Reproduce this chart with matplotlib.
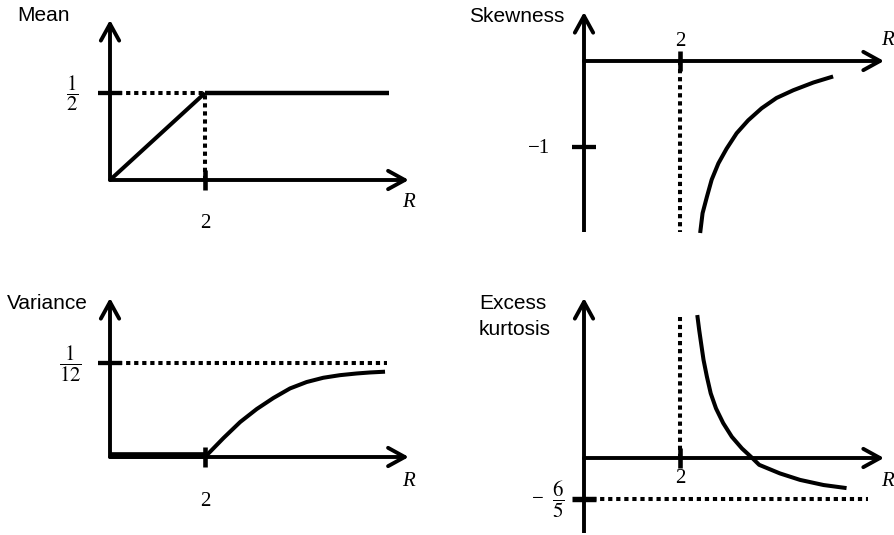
import numpy as np
import matplotlib.pyplot as plt

plt.rcParams['mathtext.fontset'] = 'stix'

W, H = 894, 535

# values
mean_r = [0, 2, 5.87]
mean_v = [0, 0.5, 0.5]

skew_r = [2.42, 2.47, 2.56, 2.66, 2.80, 2.97, 3.18, 3.42, 3.70, 4.01, 4.36, 4.78, 5.19]
skew_v = [-2.00, -1.77, -1.58, -1.38, -1.19, -1.02, -0.84, -0.69, -0.55, -0.43, -0.34, -0.25, -0.18]

var_r = [2.0, 2.39, 2.74, 3.09, 3.44, 3.79, 4.14, 4.49, 4.84, 5.19, 5.47, 5.79]
var_v = [0, 0.0169, 0.0311, 0.0427, 0.0525, 0.0610, 0.0667, 0.0705, 0.0728, 0.0743, 0.0752, 0.0759]

kurt_r = [2.36, 2.40, 2.44, 2.49, 2.56, 2.64, 2.75, 2.90, 3.08, 3.29, 3.49, 3.65, 4.08, 4.50, 4.99, 5.47]
kurt_v = [4.18, 3.74, 3.35, 2.87, 2.38, 1.89, 1.45, 1.02, 0.62, 0.28, 0.02, -0.20, -0.45, -0.64, -0.79, -0.88]

AX_LW = 2.8
CURVE_LW = 2.9
DOT = dict(color='k', lw=2.9, linestyle=(0, (1.05, 0.95)), dash_capstyle='butt', clip_on=False)
SANS = 'Liberation Sans'
SERIF = 'Liberation Serif'
FS_SANS = 15
FS_SERIF = 15

fig = plt.figure(figsize=(W / 100, H / 100), dpi=100)


def panel(box, ox, oy, sx, sy):
    # box in pixels (left, top, right, bottom); origin (ox, oy) in pixels, sx/sy pixels per unit
    l, t, r, b = box
    ax = fig.add_axes([l / W, 1 - b / H, (r - l) / W, (b - t) / H])
    ax.set_xlim((l - ox) / sx, (r - ox) / sx)
    ax.set_ylim((oy - b) / sy, (oy - t) / sy)
    ax.axis('off')
    return ax


def arrow(ax, start, end):
    ax.annotate('', xy=end, xytext=start,
                arrowprops=dict(arrowstyle='->,head_length=0.6,head_width=0.33',
                                lw=AX_LW, color='k', mutation_scale=20,
                                shrinkA=0, shrinkB=0))


def axes_lines(ax, ybot, ytop, xend):
    ax.plot([0, 0], [ybot, 0], color='k', lw=AX_LW, solid_capstyle='butt', clip_on=False)
    arrow(ax, (0, 0), (0, ytop))
    arrow(ax, (0, 0), (xend, 0))


def curve(ax, xs, ys, lw=CURVE_LW):
    ax.plot(xs, ys, color='k', lw=lw, solid_joinstyle='round', solid_capstyle='butt', clip_on=False)


def xtick(ax, x, y=0):
    ax.plot([x], [y], marker='|', ms=15, mew=3.3, color='k', clip_on=False)


def ytick(ax, y, mew=3.1):
    ax.plot([0], [y], marker='_', ms=17, mew=mew, color='k', clip_on=False)


def serif(ax, x, y, s, **kw):
    ax.text(x, y, s, family=SERIF, fontsize=FS_SERIF, ha='center', va='center', **kw)


# Mean
ax = panel((0, 0, 447, 265), 110, 180, 47.5, 174)
ax.plot([0, 2], [0.5, 0.5], **DOT)
ax.plot([2, 2], [0, 0.5], **DOT)
axes_lines(ax, 0, 0.92, 6.29)
curve(ax, mean_r[:2], mean_v[:2])
curve(ax, mean_r[1:], mean_v[1:], lw=3.2)
xtick(ax, 2)
ytick(ax, 0.5)
ax.text(-1.96, 0.943, 'Mean', family=SANS, fontsize=FS_SANS, ha='left', va='center')
ax.text(-0.8, 0.5, r'$\dfrac{1}{2}$', fontsize=FS_SERIF, ha='center', va='center')
serif(ax, 2, -0.252, '2')
serif(ax, 6.29, -0.13, 'R', style='italic')

# Skewness
ax = panel((447, 0, 894, 265), 584, 61, 48, 86)
ax.plot([2, 2], [0, -1.99], **DOT)
axes_lines(ax, -1.99, 0.57, 6.25)
curve(ax, skew_r, skew_v)
xtick(ax, 2)
ytick(ax, -1)
ax.text(-0.40, 0.52, 'Skewness', family=SANS, fontsize=FS_SANS, ha='right', va='center')
serif(ax, 2, 0.222, '2')
serif(ax, 6.33, 0.234, 'R', style='italic')
ax.text(-0.71, -1.02, '\u22121', family=SERIF, fontsize=FS_SERIF, ha='right', va='center')

# Variance
ax = panel((0, 265, 447, 535), 110, 457, 47.5, 1124)
ax.plot([0, 5.83], [1 / 12, 1 / 12], **DOT)
axes_lines(ax, 0, 0.1415, 6.29)
ax.plot([0, 2], [0.0015, 0.0015], color='k', lw=4.8, solid_capstyle='butt', clip_on=False)
curve(ax, var_r, var_v)
xtick(ax, 2)
ytick(ax, 1 / 12)
ax.text(-0.46, 0.137, 'Variance', family=SANS, fontsize=FS_SANS, ha='right', va='center')
ax.text(-0.84, 1 / 12, r'$\dfrac{1}{12}$', fontsize=FS_SERIF, ha='center', va='center')
serif(ax, 2, -0.040, '2')
serif(ax, 6.29, -0.022, 'R', style='italic')

# Excess kurtosis
ax = panel((447, 265, 894, 535), 584, 458, 48, 34.2)
ax.plot([2, 2], [0, 4.12], **DOT)
ax.plot([0, 5.92], [-1.2, -1.2], **DOT)
axes_lines(ax, -2.19, 4.68, 6.25)
curve(ax, kurt_r, kurt_v)
xtick(ax, 2)
ytick(ax, -1.2, mew=3.9)
ax.text(-2.19, 4.53, 'Excess', family=SANS, fontsize=FS_SANS, ha='left', va='center')
ax.text(-2.19, 3.77, 'kurtosis', family=SANS, fontsize=FS_SANS, ha='left', va='center')
serif(ax, 2, -0.60, '2')
serif(ax, 6.33, -0.68, 'R', style='italic')
serif(ax, -0.97, -1.2, '\u2212')
ax.text(-0.53, -1.2, r'$\dfrac{6}{5}$', fontsize=FS_SERIF, ha='center', va='center')

fig.savefig('out.png', dpi=100)
